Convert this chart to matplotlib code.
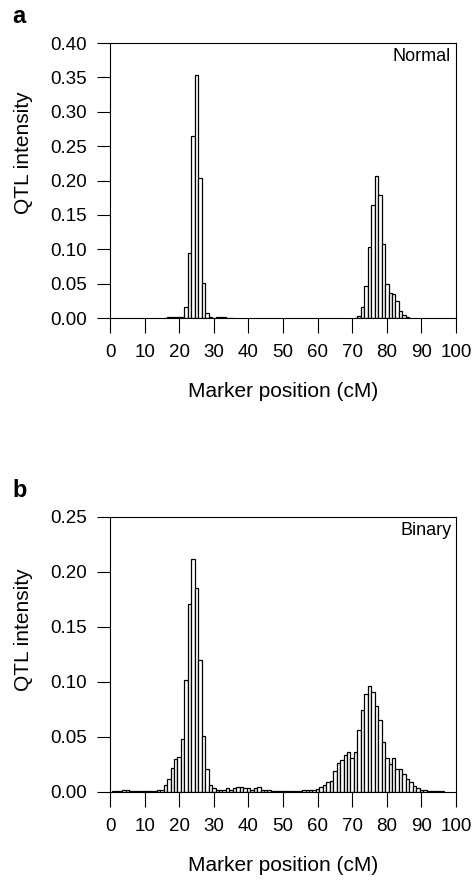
import matplotlib
matplotlib.use("Agg")
import matplotlib.pyplot as plt

plt.rcParams['font.family'] = ['Liberation Sans', 'DejaVu Sans']

# panel a (Normal)
a_pos = [16, 17, 18, 19, 20, 21, 22, 23, 24, 25, 26, 27, 28, 29, 30, 31, 32, 33, 34, 35,
         71, 72, 73, 74, 75, 76, 77, 78, 79, 80, 81, 82, 83, 84, 85, 86]
a_vals = [0.0005, 0.001, 0.0015, 0.002, 0.0015, 0.001, 0.016, 0.095, 0.265, 0.353,
          0.204, 0.051, 0.007, 0.001, 0.0005, 0.001, 0.0015, 0.001, 0.0005, 0.0005,
          0.0005, 0.003, 0.016, 0.046, 0.103, 0.165, 0.207, 0.179, 0.108, 0.049,
          0.036, 0.035, 0.025, 0.010, 0.005, 0.001]

# panel b (Binary)
b_pos = list(range(1, 97))
b_vals = [0.0005, 0.0005, 0.001, 0.0015, 0.0015, 0.001, 0.0005, 0.0005, 0.001, 0.0008,
          0.001, 0.001, 0.001, 0.0015, 0.002, 0.006, 0.012, 0.022, 0.030, 0.032,
          0.048, 0.102, 0.171, 0.212, 0.185, 0.120, 0.051, 0.021, 0.006, 0.003,
          0.002, 0.002, 0.002, 0.003, 0.002, 0.003, 0.004, 0.004, 0.003, 0.003,
          0.002, 0.003, 0.004, 0.002, 0.002, 0.0015, 0.001, 0.001, 0.0005, 0.0005,
          0.0005, 0.0005, 0.0005, 0.001, 0.001, 0.0015, 0.002, 0.002, 0.0015, 0.0024,
          0.004, 0.006, 0.009, 0.010, 0.019, 0.026, 0.029, 0.033, 0.036, 0.031,
          0.036, 0.056, 0.074, 0.089, 0.096, 0.091, 0.078, 0.065, 0.045, 0.031,
          0.025, 0.031, 0.021, 0.021, 0.016, 0.012, 0.0085, 0.005, 0.003, 0.002,
          0.0015, 0.001, 0.001, 0.0008, 0.0005, 0.0003]

x_ticks = list(range(0, 101, 10))
a_yticks = [0.00, 0.05, 0.10, 0.15, 0.20, 0.25, 0.30, 0.35, 0.40]
b_yticks = [0.00, 0.05, 0.10, 0.15, 0.20, 0.25]

fig = plt.figure(figsize=(4.73, 8.8), dpi=100)
ax_a = fig.add_axes([0.2326, 0.6386, 0.7315, 0.3125])
ax_b = fig.add_axes([0.2326, 0.1003, 0.7315, 0.3125])

def draw(ax, pos, vals, yticks, tag, letter, ylab_y):
    ax.bar(pos, vals, width=1.0, color='white', edgecolor='black', linewidth=0.9)
    ax.set_xlim(0, 100)
    ax.set_ylim(yticks[0], yticks[-1])
    ax.set_xticks(x_ticks)
    ax.set_yticks(yticks)
    ax.set_yticklabels(['%.2f' % v for v in yticks])
    ax.tick_params(axis='y', direction='out', length=9.5, width=0.8, labelsize=13.5, pad=7)
    ax.tick_params(axis='x', direction='out', length=11, width=0.8, labelsize=13.5, pad=8)
    for s in ax.spines.values():
        s.set_linewidth(0.8)
    ax.set_xlabel('Marker position (cM)', fontsize=15)
    ax.xaxis.set_label_coords(0.5, -0.232)
    ax.set_ylabel('QTL intensity', fontsize=15)
    ax.yaxis.set_label_coords(-0.222, ylab_y)
    ax.text(0.986, 0.982, tag, transform=ax.transAxes, ha='right', va='top', fontsize=13)
    ax.text(-0.283, 1.055, letter, transform=ax.transAxes, ha='left', va='bottom',
            fontsize=17, fontweight='bold')

draw(ax_a, a_pos, a_vals, a_yticks, 'Normal', 'a', 0.60)
draw(ax_b, b_pos, b_vals, b_yticks, 'Binary', 'b', 0.588)

fig.savefig('out.png', dpi=100)
